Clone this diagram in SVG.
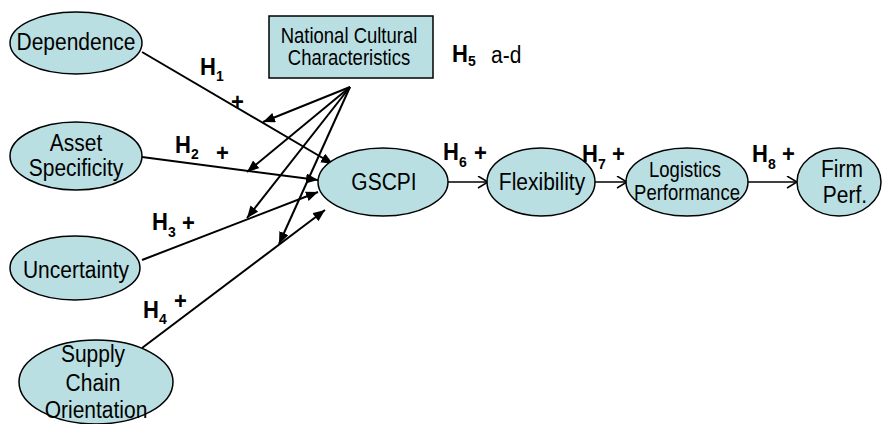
<svg xmlns="http://www.w3.org/2000/svg" width="883" height="424" viewBox="0 0 883 424">
<style>
.n{fill:#b9dfe2;stroke:#000;stroke-width:1.5}
.t{font-family:"Liberation Sans",Arial,sans-serif;font-size:21px;fill:#000;text-anchor:middle}
.s{font-size:18.5px}
.h{font-family:"Liberation Sans",Arial,sans-serif;font-weight:bold;font-size:22px;fill:#000}
.sub{font-size:14px}
.c{stroke:#000;stroke-width:2;fill:none}
.o{stroke:#000;stroke-width:1.5;fill:none}
</style>
<defs>
<marker id="tri" markerUnits="userSpaceOnUse" markerWidth="14" markerHeight="12" refX="12" refY="5" orient="auto">
<path d="M0,0 L12,5 L0,10 Z" fill="#000"/>
</marker>
<marker id="chev" markerUnits="userSpaceOnUse" markerWidth="14" markerHeight="14" refX="11" refY="6" orient="auto">
<path d="M1,0 L11,6 L1,12" fill="none" stroke="#000" stroke-width="1.5"/>
</marker>
</defs>
<rect width="883" height="424" fill="#fff"/>
<g id="connectors">
<line class="c" x1="142" y1="52" x2="333" y2="164" marker-end="url(#tri)"/>
<line class="c" x1="142" y1="157" x2="318" y2="180" marker-end="url(#tri)"/>
<line class="c" x1="142" y1="260" x2="318" y2="192" marker-end="url(#tri)"/>
<line class="c" x1="142" y1="348" x2="325" y2="210" marker-end="url(#tri)"/>
<line class="c" x1="350" y1="87" x2="263" y2="122" marker-end="url(#tri)"/>
<line class="c" x1="350" y1="87" x2="247" y2="172" marker-end="url(#tri)"/>
<line class="c" x1="350" y1="87" x2="247" y2="218" marker-end="url(#tri)"/>
<line class="c" x1="350" y1="87" x2="279" y2="244" marker-end="url(#tri)"/>
<line class="o" x1="448" y1="182" x2="488" y2="182" marker-end="url(#chev)"/>
<line class="o" x1="595" y1="182" x2="627" y2="182" marker-end="url(#chev)"/>
<line class="o" x1="748" y1="182" x2="797" y2="182" marker-end="url(#chev)"/>
</g>
<g id="dependence">
<ellipse class="n" cx="76" cy="43" rx="66" ry="31"/>
<text class="t" transform="translate(76 50) scale(1 1.15)">Dependence</text>
</g>
<g id="asset">
<ellipse class="n" cx="76" cy="156" rx="66" ry="34"/>
<text class="t" transform="translate(76 151) scale(1 1.15)">Asset</text>
<text class="t" transform="translate(76 176) scale(1 1.15)">Specificity</text>
</g>
<g id="uncertainty">
<ellipse class="n" cx="75" cy="268" rx="65" ry="32"/>
<text class="t" transform="translate(76 278) scale(1 1.15)">Uncertainty</text>
</g>
<g id="sco">
<ellipse class="n" cx="96" cy="382" rx="77" ry="42"/>
<text class="t" transform="translate(93 362) scale(1 1.15)">Supply</text>
<text class="t" transform="translate(93 391) scale(1 1.15)">Chain</text>
<text class="t" transform="translate(96 418) scale(1 1.15)">Orientation</text>
</g>
<g id="ncc">
<rect class="n" x="269" y="16" width="164" height="62"/>
<text class="t s" transform="translate(349 43) scale(1 1.15)">National Cultural</text>
<text class="t s" transform="translate(349 65) scale(1 1.15)">Characteristics</text>
</g>
<g id="gscpi">
<ellipse class="n" cx="383" cy="182" rx="65" ry="34"/>
<text class="t" transform="translate(384 190) scale(1 1.15)">GSCPI</text>
</g>
<g id="flexibility">
<ellipse class="n" cx="541" cy="182" rx="54" ry="34"/>
<text class="t" transform="translate(542 190) scale(1 1.15)">Flexibility</text>
</g>
<g id="logistics">
<ellipse class="n" cx="687" cy="182" rx="61" ry="34"/>
<text class="t s" transform="translate(685 177) scale(1 1.15)">Logistics</text>
<text class="t s" transform="translate(687 200) scale(1 1.15)">Performance</text>
</g>
<g id="firm">
<ellipse class="n" cx="839" cy="182" rx="42" ry="34"/>
<text class="t" transform="translate(842 177) scale(1 1.15)">Firm</text>
<text class="t" transform="translate(845 203) scale(1 1.15)">Perf.</text>
</g>
<g id="labels">
<text class="h" transform="translate(200 75) scale(1 1.1)">H<tspan class="sub" dy="5">1</tspan></text>
<text class="h" transform="translate(231 110) scale(1 1.1)">+</text>
<text class="h" transform="translate(175 153) scale(1 1.1)">H<tspan class="sub" dy="5">2</tspan></text>
<text class="h" transform="translate(216 161) scale(1 1.1)">+</text>
<text class="h" transform="translate(152 230) scale(1 1.1)">H<tspan class="sub" dy="6">3</tspan></text>
<text class="h" transform="translate(182 231) scale(1 1.1)">+</text>
<text class="h" transform="translate(143 318) scale(1 1.1)">H<tspan class="sub" dy="5">4</tspan></text>
<text class="h" transform="translate(174 309) scale(1 1.1)">+</text>
<text class="h" transform="translate(452 62) scale(1 1.1)">H<tspan class="sub" dy="4">5</tspan></text>
<text transform="translate(491 63) scale(1 1.15)" font-family="Liberation Sans, Arial, sans-serif" font-size="21" fill="#000">a-d</text>
<text class="h" transform="translate(443 160) scale(1 1.1)">H<tspan class="sub" dy="6">6</tspan></text>
<text class="h" transform="translate(474 161) scale(1 1.1)">+</text>
<text class="h" transform="translate(582 162) scale(1 1.1)">H<tspan class="sub" dy="6">7</tspan></text>
<text class="h" transform="translate(612 162) scale(1 1.1)">+</text>
<text class="h" transform="translate(752 162) scale(1 1.1)">H<tspan class="sub" dy="6">8</tspan></text>
<text class="h" transform="translate(782 162) scale(1 1.1)">+</text>
</g>
</svg>
